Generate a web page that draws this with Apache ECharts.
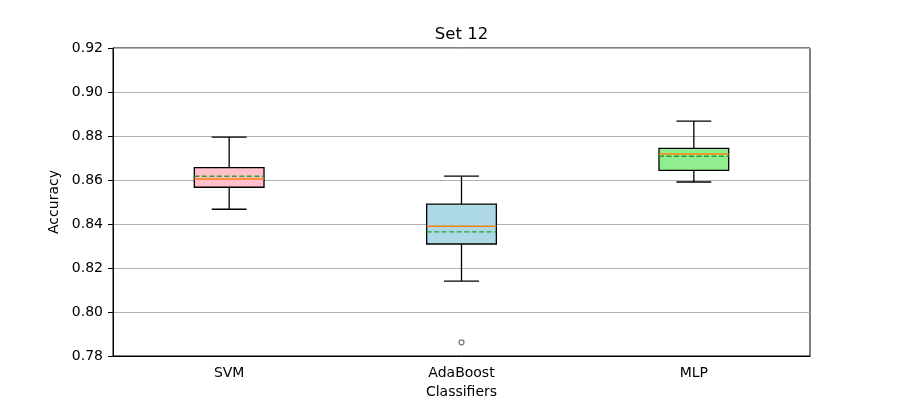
<!DOCTYPE html>
<html>
<head>
<meta charset="utf-8">
<script src="https://cdn.jsdelivr.net/npm/echarts@6/dist/echarts.min.js"></script>
<style>html,body{margin:0;padding:0;background:#fff;}#c{width:900px;height:400px;}</style>
</head>
<body>
<div id="c"></div>
<script>
const categories = ['SVM', 'AdaBoost', 'MLP'];
const whiskerLow = [0.8467, 0.8140, 0.8591];
const q1 = [0.8567, 0.8309, 0.8644];
const median = [0.8605, 0.8390, 0.8718];
const q3 = [0.8656, 0.8490, 0.8744];
const whiskerHigh = [0.8795, 0.8618, 0.8868];
const means = [0.8617, 0.8364, 0.8708];
const outliers = [[1, 0.7862]];
const boxColors = ['#ffc0cb', '#add8e6', '#90ee90'];
const yTicks = { min: 0.78, max: 0.92, interval: 0.02 };

const boxData = categories.map((c, i) => [i, whiskerLow[i], q1[i], median[i], q3[i], whiskerHigh[i], means[i]]);

const chart = echarts.init(document.getElementById('c'), null, { renderer: 'canvas' });
const font = 'DejaVu Sans';

chart.setOption({
  animation: false,
  backgroundColor: '#fff',
  graphic: [{
    type: 'text', x: 461.5, y: 35,
    style: { text: 'Set 12', fontFamily: font, fontSize: 16.5, fill: '#000', textAlign: 'center', textVerticalAlign: 'middle' }
  }],
  grid: { left: 113, right: 90, top: 48, bottom: 44, show: true, borderColor: '#000', borderWidth: 1, backgroundColor: 'transparent', outerBoundsMode: 'none', containLabel: false },
  xAxis: {
    type: 'category', data: categories, boundaryGap: true,
    name: 'Classifiers', nameLocation: 'middle', nameGap: 29,
    nameTextStyle: { fontFamily: font, fontSize: 14, color: '#000' },
    axisLine: { lineStyle: { color: '#000', width: 1 } },
    axisTick: { alignWithLabel: true, length: 5, lineStyle: { color: '#000' } },
    axisLabel: { fontFamily: font, fontSize: 14, color: '#000', margin: 10 },
    splitLine: { show: false }
  },
  yAxis: {
    type: 'value', min: yTicks.min, max: yTicks.max, interval: yTicks.interval,
    name: 'Accuracy', nameLocation: 'middle', nameGap: 45, nameRotate: 90,
    nameTextStyle: { fontFamily: font, fontSize: 14, color: '#000' },
    axisLine: { show: true, lineStyle: { color: '#000', width: 1 } },
    axisTick: { show: true, length: 5, lineStyle: { color: '#000' } },
    axisLabel: { fontFamily: font, fontSize: 14, color: '#000', margin: 10, formatter: v => v.toFixed(2) },
    splitLine: { show: true, lineStyle: { color: '#b0b0b0', width: 1 } }
  },
  series: [
    {
      type: 'custom',
      data: boxData,
      encode: { x: 0, y: [1, 2, 3, 4, 5, 6] },
      z: 3,
      renderItem: function (params, api) {
        const idx = api.value(0);
        const band = api.size([1, 0])[0];
        const bw = band * 0.3;
        const cw = bw * 0.5;
        const pLow = api.coord([idx, api.value(1)]);
        const pQ1 = api.coord([idx, api.value(2)]);
        const pMed = api.coord([idx, api.value(3)]);
        const pQ3 = api.coord([idx, api.value(4)]);
        const pHigh = api.coord([idx, api.value(5)]);
        const pMean = api.coord([idx, api.value(6)]);
        const x = pQ1[0];
        const black = { stroke: '#000', lineWidth: 1.3, fill: null };
        return {
          type: 'group',
          children: [
            { type: 'line', shape: { x1: x, y1: pQ3[1], x2: x, y2: pHigh[1] }, style: black },
            { type: 'line', shape: { x1: x, y1: pQ1[1], x2: x, y2: pLow[1] }, style: black },
            { type: 'line', shape: { x1: x - cw / 2, y1: pHigh[1], x2: x + cw / 2, y2: pHigh[1] }, style: black },
            { type: 'line', shape: { x1: x - cw / 2, y1: pLow[1], x2: x + cw / 2, y2: pLow[1] }, style: black },
            { type: 'rect', shape: { x: x - bw / 2, y: pQ3[1], width: bw, height: pQ1[1] - pQ3[1] },
              style: { fill: boxColors[idx], stroke: '#000', lineWidth: 1.3 } },
            { type: 'line', shape: { x1: x - bw / 2, y1: pMed[1], x2: x + bw / 2, y2: pMed[1] },
              style: { stroke: '#ff7f0e', lineWidth: 1.5 } },
            { type: 'line', shape: { x1: x - bw / 2, y1: pMean[1], x2: x + bw / 2, y2: pMean[1] },
              style: { stroke: '#2ca02c', lineWidth: 1.3, lineDash: [5, 2.5] } }
          ]
        };
      }
    },
    {
      type: 'scatter',
      data: outliers,
      symbol: 'circle', symbolSize: 5,
      itemStyle: { color: '#fff', borderColor: '#555', borderWidth: 1.2 },
      z: 4
    }
  ]
});
</script>
</body>
</html>
